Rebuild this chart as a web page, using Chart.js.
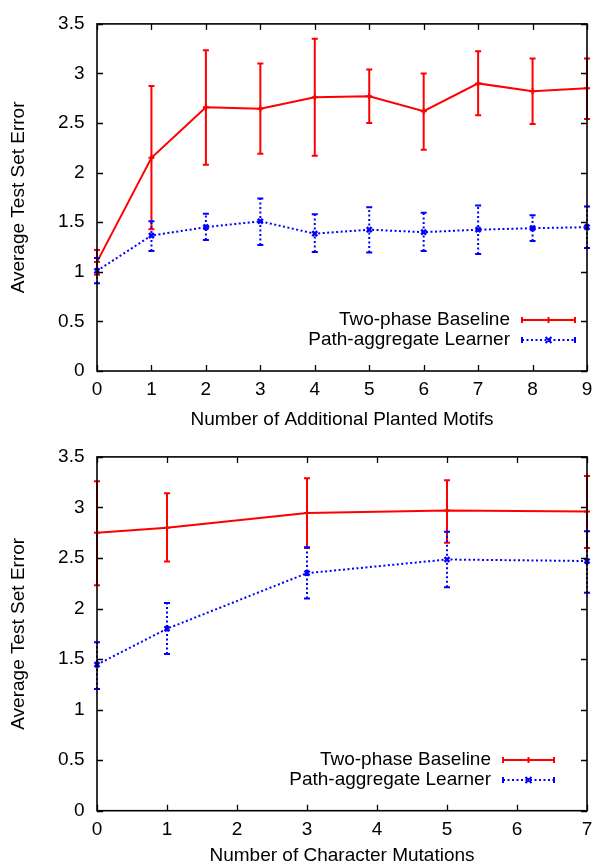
<!DOCTYPE html>
<html>
<head>
<meta charset="utf-8">
<script src="https://cdn.jsdelivr.net/npm/chart.js@4.4.1/dist/chart.umd.min.js"></script>
<style>
  body { margin: 0; background: #fff; }
  .wrap { position: relative; width: 600px; }
  canvas { display: block; }
</style>
</head>
<body>
<div class="wrap"><canvas id="top-chart" width="600" height="433"></canvas></div>
<div class="wrap"><canvas id="bottom-chart" width="600" height="434"></canvas></div>
<script>
// top panel: additional planted motifs
const motifs = [0, 1, 2, 3, 4, 5, 6, 7, 8, 9];
const motifBaseline = [1.10, 2.15, 2.66, 2.645, 2.76, 2.77, 2.62, 2.90, 2.82, 2.85];
const motifBaselineLow = [0.97, 1.43, 2.08, 2.19, 2.17, 2.50, 2.23, 2.58, 2.49, 2.54];
const motifBaselineHigh = [1.22, 2.875, 3.235, 3.10, 3.35, 3.04, 3.00, 3.225, 3.15, 3.15];
const motifLearner = [1.01, 1.366, 1.45, 1.51, 1.385, 1.425, 1.40, 1.425, 1.44, 1.45];
const motifLearnerLow = [0.885, 1.21, 1.32, 1.27, 1.20, 1.195, 1.21, 1.18, 1.31, 1.24];
const motifLearnerHigh = [1.14, 1.51, 1.585, 1.74, 1.58, 1.65, 1.595, 1.67, 1.57, 1.66];

// bottom panel: character mutations
const mutations = [0, 1, 3, 5, 7];
const mutBaseline = [2.75, 2.80, 2.945, 2.97, 2.96];
const mutBaselineLow = [2.23, 2.465, 2.60, 2.65, 2.60];
const mutBaselineHigh = [3.26, 3.14, 3.29, 3.27, 3.31];
const mutLearner = [1.445, 1.80, 2.35, 2.485, 2.47];
const mutLearnerLow = [1.205, 1.55, 2.10, 2.21, 2.155];
const mutLearnerHigh = [1.667, 2.055, 2.605, 2.76, 2.765];

const seriesNames = ['Two-phase Baseline', 'Path-aggregate Learner'];
const yTitle = 'Average Test Set Error';
const FONT = "'Liberation Sans', Arial, sans-serif";
const FSIZE = 19;
const RED = '#ff0000';
const BLUE = '#0000ff';
const DOTS = [2, 2.5];

// vertical error bars with caps, read from dataset.low / dataset.high
const errorBars = {
    id: 'errorBars',
    afterDatasetsDraw(chart) {
        const ctx = chart.ctx;
        const xs = chart.scales.x, ys = chart.scales.y;
        chart.data.datasets.forEach(ds => {
            ctx.save();
            ctx.strokeStyle = ds.borderColor;
            ctx.lineWidth = 2;
            ctx.setLineDash(ds.borderDash || []);
            ds.data.forEach((p, i) => {
                const x = xs.getPixelForValue(p.x);
                const y1 = ys.getPixelForValue(ds.low[i]);
                const y2 = ys.getPixelForValue(ds.high[i]);
                ctx.beginPath();
                ctx.moveTo(x, y1); ctx.lineTo(x, y2);
                ctx.stroke();
                ctx.setLineDash([]);
                ctx.beginPath();
                ctx.moveTo(x - 3, y1); ctx.lineTo(x + 3, y1);
                ctx.moveTo(x - 3, y2); ctx.lineTo(x + 3, y2);
                ctx.stroke();
                ctx.setLineDash(ds.borderDash || []);
            });
            ctx.restore();
        });
    }
};

// gnuplot style frame with inward ticks on all four sides
const frame = {
    id: 'frame',
    afterDraw(chart) {
        const ctx = chart.ctx;
        const a = chart.chartArea;
        const xs = chart.scales.x, ys = chart.scales.y;
        ctx.save();
        ctx.strokeStyle = '#000';
        ctx.lineWidth = 1.3;
        ctx.beginPath();
        xs.ticks.forEach(t => {
            const x = Math.round(xs.getPixelForValue(t.value)) + 0.5;
            ctx.moveTo(x, a.bottom); ctx.lineTo(x, a.bottom - 6);
            ctx.moveTo(x, a.top); ctx.lineTo(x, a.top + 6);
        });
        ys.ticks.forEach(t => {
            const y = Math.round(ys.getPixelForValue(t.value)) + 0.5;
            ctx.moveTo(a.left, y); ctx.lineTo(a.left + 6, y);
            ctx.moveTo(a.right, y); ctx.lineTo(a.right - 6, y);
        });
        ctx.stroke();
        ctx.lineWidth = 1.6;
        ctx.strokeRect(a.left, a.top, a.right - a.left, a.bottom - a.top);
        ctx.restore();
    }
};

// key in the lower right of the plot, text right aligned
const key = {
    id: 'key',
    afterDraw(chart, args, opts) {
        const ctx = chart.ctx;
        ctx.save();
        ctx.font = FSIZE + 'px ' + FONT;
        ctx.fillStyle = '#000';
        ctx.textAlign = 'right';
        ctx.textBaseline = 'middle';
        chart.data.datasets.forEach((ds, i) => {
            const y = opts.y + i * 20;
            ctx.fillText(ds.label, opts.textRight, y);
            const x1 = opts.textRight + 12, x2 = x1 + opts.sample;
            ctx.strokeStyle = ds.borderColor;
            ctx.lineWidth = 2;
            ctx.setLineDash(ds.borderDash || []);
            ctx.beginPath();
            ctx.moveTo(x1, y); ctx.lineTo(x2, y);
            ctx.stroke();
            ctx.setLineDash([]);
            ctx.beginPath();
            ctx.moveTo(x1, y - 3); ctx.lineTo(x1, y + 3);
            ctx.moveTo(x2, y - 3); ctx.lineTo(x2, y + 3);
            const m = (x1 + x2) / 2;
            if (i === 0) {
                ctx.moveTo(m, y - 3); ctx.lineTo(m, y + 3);
            } else {
                ctx.moveTo(m - 3, y - 3); ctx.lineTo(m + 3, y + 3);
                ctx.moveTo(m - 3, y + 3); ctx.lineTo(m + 3, y - 3);
            }
            ctx.stroke();
        });
        ctx.restore();
    }
};

function pairs(xs, ys) {
    return xs.map((x, i) => ({ x: x, y: ys[i] }));
}

function makeChart(id, xVals, base, baseLow, baseHigh, learn, learnLow, learnHigh, xMax, xTitle, box) {
    const ctx = document.getElementById(id).getContext('2d');
    return new Chart(ctx, {
        type: 'line',
        data: {
            datasets: [{
                label: seriesNames[0],
                data: pairs(xVals, base),
                low: baseLow,
                high: baseHigh,
                borderColor: RED,
                backgroundColor: RED,
                borderWidth: 2,
                pointStyle: 'cross',
                pointRadius: 3,
                pointBorderWidth: 2,
                tension: 0,
                clip: false
            }, {
                label: seriesNames[1],
                data: pairs(xVals, learn),
                low: learnLow,
                high: learnHigh,
                borderColor: BLUE,
                backgroundColor: BLUE,
                borderWidth: 2,
                borderDash: DOTS,
                pointStyle: 'crossRot',
                pointRadius: 3.5,
                pointBorderWidth: 2.5,
                tension: 0,
                clip: false
            }]
        },
        options: {
            responsive: false,
            animation: false,
            layout: { padding: { top: box.top, right: 9, left: 0, bottom: 0 } },
            plugins: {
                legend: { display: false },
                tooltip: { enabled: false },
                key: { textRight: box.keyRight, y: box.keyY, sample: box.sample }
            },
            scales: {
                x: {
                    type: 'linear',
                    min: 0,
                    max: xMax,
                    ticks: { stepSize: 1, color: '#000', padding: 7.7, font: { family: FONT, size: FSIZE } },
                    grid: { display: false, drawTicks: false },
                    border: { display: false },
                    title: { display: true, text: xTitle, color: '#000', padding: { top: 0, bottom: box.titlePad }, font: { family: FONT, size: FSIZE } },
                    afterFit: s => { s.height = box.xHeight; }
                },
                y: {
                    min: 0,
                    max: 3.5,
                    ticks: {
                        stepSize: 0.5, color: '#000', padding: 12.5, font: { family: FONT, size: FSIZE },
                        callback: v => String(v)
                    },
                    grid: { display: false, drawTicks: false },
                    border: { display: false },
                    title: { display: true, text: yTitle, color: '#000', padding: { top: 7.6, bottom: 0 }, font: { family: FONT, size: FSIZE } },
                    afterFit: s => { s.width = 97; }
                }
            }
        },
        plugins: [errorBars, frame, key]
    });
}

makeChart('top-chart', motifs, motifBaseline, motifBaselineLow, motifBaselineHigh,
    motifLearner, motifLearnerLow, motifLearnerHigh, 9, 'Number of Additional Planted Motifs',
    { top: 14.5, xHeight: 62, titlePad: 2, keyRight: 510, keyY: 320, sample: 53 });

makeChart('bottom-chart', mutations, mutBaseline, mutBaselineLow, mutBaselineHigh,
    mutLearner, mutLearnerLow, mutLearnerHigh, 7, 'Number of Character Mutations',
    { top: 20.5, xHeight: 56.3, titlePad: 0, keyRight: 491, keyY: 327, sample: 51 });
</script>
</body>
</html>
